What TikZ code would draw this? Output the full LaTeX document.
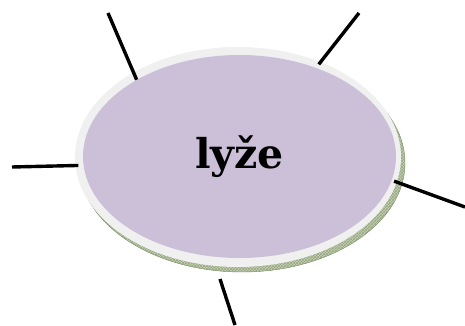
\documentclass[tikz,border=0pt]{standalone}
\usepackage{fontspec}
\usepackage{tikz}
\usetikzlibrary{shapes,positioning,patterns}
\newfontfamily\lyzefont{DejaVu Serif}
\definecolor{lyzefill}{RGB}{203,192,216}
\definecolor{rimfill}{RGB}{240,240,240}
\definecolor{shadowfill}{RGB}{196,210,176}
\definecolor{shadowline}{RGB}{108,128,84}

\begin{document}
\begin{tikzpicture}[x=1pt, y=-1pt,
    spoke/.style={line width=3.4pt, black, shorten >=-3pt},
    oval/.style={ellipse, inner sep=0pt}]
    \useasboundingbox (0,0) rectangle (465,326);
    \node[oval, draw=shadowline, fill=shadowfill, minimum width=326, minimum height=218] (shadow) at (242,163) {};
    \node[oval, pattern=crosshatch, pattern color=shadowline!70, minimum width=326, minimum height=218] at (242,163) {};
    \node[oval, fill=rimfill, minimum width=326, minimum height=220] (rim) at (238,157) {};
    \node[oval, fill=lyzefill, minimum width=313, minimum height=203, font=\lyzefont\bfseries\fontsize{41}{46}\selectfont] (lyze) at (239.5,156.5) {lyže};

    \coordinate (t1) at (108,13);
    \coordinate (t2) at (359,13);
    \coordinate (l1) at (12,167);
    \coordinate (r1) at (465,207);
    \coordinate (b0) at (220,279);
    \coordinate (b1) at (235,325);

    \draw
    (t1) edge[spoke, shorten >=-8pt] (rim.141)
    (t2) edge[spoke] (rim.49)
    (l1) edge[spoke] (rim.183)
    (r1) edge[spoke] (rim.-9)
    (b0) edge[spoke, shorten >=0pt] (b1);
\end{tikzpicture}
\end{document}
